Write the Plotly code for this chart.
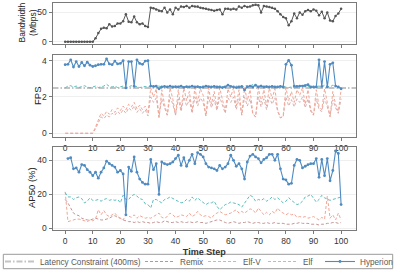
import plotly.graph_objects as go

# ---------------- data ----------------
time_step = list(range(101))

bandwidth_mbps = [
    0, 0, 0, 0, 0, 0, 0, 0, 0, 0,
    0, 6, 15, 22, 24, 23, 30, 26, 27, 31,
    31, 35, 47, 34, 33, 43, 33, 30, 31, 27,
    25, 58, 57, 55, 53, 52, 58, 50, 55, 47,
    58, 55, 60, 59, 61, 58, 61, 60, 60, 58,
    57, 56, 55, 54, 53, 54, 55, 47, 56, 56,
    55, 56, 55, 60, 58, 61, 59, 60, 62, 63,
    62, 50, 61, 60, 59, 58, 56, 52, 47, 42,
    40, 28, 35, 48, 40, 50, 46, 52, 54, 52,
    55, 53, 45, 51, 40, 50, 36, 35, 44, 48,
    56,
]

latency_constraint_fps = 2.5

hyperion_fps = [
    3.78, 3.8, 4.05, 3.65, 3.95, 3.68, 3.9, 3.72, 3.92, 3.75,
    3.68, 3.72, 3.78, 3.8, 3.8, 4.1, 3.82, 3.78, 3.98, 3.82,
    3.85, 4.0, 2.5, 3.95, 3.95, 2.6, 4.05, 3.85, 3.8, 3.98,
    4.0, 2.6, 2.58, 2.6, 2.45, 2.55, 2.58, 2.55, 2.6, 2.55,
    2.57, 2.55, 2.6, 2.53, 2.57, 2.55, 2.6, 2.55, 2.57, 2.53,
    2.55, 2.6, 2.57, 2.55, 2.58, 2.55, 2.55, 2.52, 2.55, 2.65,
    2.58, 2.55, 2.52, 2.55, 2.58, 2.38, 2.55, 2.6, 2.55, 2.65,
    2.55, 2.6, 2.55, 2.57, 2.55, 2.58, 2.55, 2.55, 2.58, 2.55,
    3.8, 4.02, 3.75, 2.6, 2.58, 2.6, 2.6, 2.62, 2.68, 2.55,
    2.55, 2.55, 4.05, 2.58, 3.95, 2.55, 3.8, 3.88, 2.6, 2.55,
    2.45,
]

remix_fps = [
    2.5, 2.6, 2.62, 2.55, 2.6, 2.52, 2.58, 2.62, 2.55, 2.5,
    2.55, 2.6, 2.52, 2.56, 2.6, 2.7, 2.58, 2.55, 2.6, 2.52,
    2.55, 2.6, 2.5, 2.55, 2.62, 2.55, 2.58, 2.52, 2.55, 2.58,
    2.55, 2.6, 2.55, 2.57, 2.6, 2.55, 2.58, 2.56, 2.6, 2.55,
    2.57, 2.55, 2.6, 2.55, 2.58, 2.56, 2.6, 2.55, 2.58, 2.56,
    2.55, 2.6, 2.57, 2.55, 2.6, 2.55, 2.58, 2.56, 2.6, 2.65,
    2.58, 2.55, 2.6, 2.57, 2.55, 2.6, 2.62, 2.58, 2.7, 2.62,
    2.6, 2.65, 2.58, 2.6, 2.56, 2.6, 2.58, 2.55, 2.6, 2.57,
    2.55, 2.52, 2.55, 2.5, 2.55, 2.58, 2.6, 2.55, 2.6, 2.52,
    2.55, 2.58, 2.6, 2.55, 2.65, 2.58, 2.55, 2.65, 2.58, 2.55,
    2.5,
]

elf_v_fps = [
    0, 0, 0, 0, 0, 0, 0, 0, 0, 0,
    0, 0.25, 0.6, 0.9, 0.8, 1.0, 0.9, 1.1, 1.0, 1.2,
    1.05, 1.3, 1.1, 1.4, 1.25, 1.5, 1.15, 1.35, 1.1, 1.3,
    0.95, 2.0, 1.7, 1.95, 0.9, 1.9, 1.4, 1.0, 2.0, 1.6,
    1.0, 1.9, 1.2, 2.0, 1.5, 1.85, 1.1, 2.0, 1.5, 1.95,
    1.7, 0.95, 2.0, 1.4, 1.85, 1.25, 2.0, 1.6, 1.1, 1.95,
    1.7, 2.0, 1.3, 1.9, 1.0, 2.0, 1.5, 1.9, 1.05, 0.9,
    2.0, 1.45, 1.9, 1.3, 2.0, 1.6, 1.95, 1.2, 0.85, 0.9,
    2.0, 1.5, 1.85, 1.45, 1.9, 1.7, 2.0, 1.4, 1.9, 1.2,
    1.0, 1.9, 1.3, 1.2, 1.95, 1.45, 0.95, 1.85, 1.4, 1.1,
    1.9,
]

elf_fps = [
    0, 0, 0, 0, 0, 0, 0, 0, 0, 0,
    0, 0.35, 0.75, 1.1, 0.95, 1.2, 1.05, 1.3, 1.15, 1.4,
    1.25, 1.5, 1.3, 1.6, 1.45, 1.7, 1.35, 1.55, 1.3, 1.5,
    1.1, 2.5, 2.0, 2.45, 0.85, 2.4, 1.6, 1.0, 2.5, 1.9,
    1.0, 2.4, 1.3, 2.5, 1.8, 2.3, 1.2, 2.5, 1.7, 2.45,
    2.1, 0.95, 2.5, 1.6, 2.3, 1.4, 2.5, 1.9, 1.2, 2.45,
    2.0, 2.5, 1.5, 2.4, 1.0, 2.5, 1.8, 2.4, 1.1, 0.9,
    2.5, 1.7, 2.4, 1.5, 2.5, 1.9, 2.45, 1.3, 0.85, 0.95,
    2.5, 1.8, 2.3, 1.7, 2.4, 2.1, 2.5, 1.6, 2.4, 1.3,
    1.0, 2.4, 1.5, 1.3, 2.45, 1.7, 0.9, 2.3, 1.6, 1.2,
    2.4,
]

hyperion_ap50 = [
    None, 41, 41.5, 35, 35.5, 33, 37.5, 37, 34.5, 33,
    31, 33, 29.5, 33, 35.5, 39.5, 38, 37, 36, 33,
    34, 32, 8, 36, 33.5, 42, 33, 29, 27, 26,
    26, 40.5, 34.5, 38, 20, 39, 38, 37.5, 38, 39,
    41, 43, 37, 41.5, 36.5, 40, 43.5, 38, 44.5, 43.5,
    42, 38, 36, 35.5, 35, 34, 37, 35, 36, 38,
    43, 40, 36.5, 38, 35, 29, 39, 42.5, 43.5, 42,
    41, 38.5, 40.5, 41.5, 43.5, 43.5, 40, 43.5, 35, 29,
    28.5, 26, 26.5, 37, 40.5, 40, 35.5, 36.5, 37.5, 38,
    38, 41, 30, 40.5, 31, 41, 28, 34, 45.5, 44,
    14,
]

remix_ap50 = [
    21, 18.5, 18.5, 17, 18, 18.5, 17.5, 15, 16, 18,
    16.5, 16.5, 17, 16, 17, 17.5, 16.5, 17, 16.5, 17,
    15, 19.5, 17, 17, 19, 20, 19, 17.5, 17, 14.5,
    14, 12, 17, 17, 16, 15, 17, 17.5, 18.5, 17.5,
    17, 16, 15, 15.5, 17, 16, 18.5, 16.5, 18, 16.5,
    15.5, 14, 15, 15, 16, 13, 11, 12.5, 14, 14.5,
    15.5, 15, 14.5, 14, 12.5, 15, 17, 19.5, 18.5, 16,
    17, 16.5, 17.5, 16, 17, 18.5, 17, 18, 16.5, 15,
    16, 18, 16.5, 15, 14, 14.5, 16, 18.5, 19, 20,
    17.5, 15.5, 17, 19.5, 18, 17, 16.5, 17, 17.5, 18,
    18.5,
]

elf_v_ap50 = [
    17, 15, 12, 9, 8, 7.5, 6, 5.5, 5, 5,
    5.5, 6, 5.5, 5, 5, 5.5, 6, 7, 7.5, 6.5,
    6, 5, 4.5, 4, 4, 3.5, 4, 3.5, 4, 3.5,
    3.5, 3, 3.5, 4, 3.5, 3.5, 4.5, 4, 3.5, 3.5,
    4, 3.5, 4, 3.5, 3.5, 4, 3.5, 3.5, 4, 3.5,
    3.5, 3, 3.5, 4, 4.5, 5, 5, 4, 3.5, 3,
    3.5, 4, 3.5, 3, 3.5, 3.5, 4, 3.5, 3, 3.5,
    3.5, 3, 3, 3.5, 3, 3, 3.5, 3, 3, 3,
    2.5, 2.5, 2.5, 3, 3, 3.5, 3, 3, 3, 2.5,
    2.5, 2.5, 2, 2.5, 2.5, 3, 3, 3.5, 3.5, 3,
    3.5,
]

elf_ap50 = [
    21.5, 4, 4.5, 5, 5.5, 5.5, 5, 4.5, 4, 5,
    4.5, 5.5, 11, 8, 10.5, 8, 7, 8, 9, 7,
    6, 5, 8, 7, 6.5, 8, 6, 7.5, 6.5, 6,
    6.5, 6, 7, 8, 9, 6.5, 6, 7, 9, 8,
    6.5, 7, 8, 7.5, 7, 9, 7, 8, 10, 8,
    7, 7.5, 7, 6, 8, 9, 10, 9, 8, 8.5,
    9, 10, 11, 9, 10, 9, 10, 11.5, 11, 9,
    12, 10, 8, 9.5, 8, 10, 9, 12, 10, 9,
    8, 9, 8, 8.5, 6.5, 7, 6.5, 7, 6, 6.5,
    7, 6, 5, 6.5, 5.5, 19, 6, 8, 5, 9,
    5,
]

x_ticks = [0, 10, 20, 30, 40, 50, 60, 70, 80, 90, 100]

# ---------------- style ----------------
FONT = "Liberation Sans, Arial, sans-serif"
C_HYP = "#4f8bc1"
C_REMIX = "#5cbdbd"
C_ELFV = "#d9b0b0"
C_ELF = "#f4a595"
C_LAT = "#c4c4c4"
C_BW = "#555555"
X_RANGE = [-4.6, 105.4]
W, H = 397, 273

def py(px):
    return 1 - px / H

def px_x(px):
    return px / W

fig = go.Figure()

# Panel 1: bandwidth
fig.add_trace(go.Scatter(
    x=time_step, y=bandwidth_mbps, mode="lines+markers",
    line=dict(color=C_BW, width=1), marker=dict(size=2.5, color=C_BW),
    showlegend=False, xaxis="x", yaxis="y"))

# Panel 2: FPS
fig.add_trace(go.Scatter(
    x=X_RANGE, y=[latency_constraint_fps, latency_constraint_fps], mode="lines",
    name="Latency Constraint (400ms)", legend="legend",
    line=dict(color=C_LAT, width=2, dash="6px,2px,1.5px,2px"),
    xaxis="x2", yaxis="y2"))
fig.add_trace(go.Scatter(
    x=time_step, y=elf_v_fps, mode="lines", name="Elf-V", legend="legend3", legendgroup="elfv",
    line=dict(color=C_ELFV, width=1, dash="3px,2px"), xaxis="x2", yaxis="y2"))
fig.add_trace(go.Scatter(
    x=time_step, y=elf_fps, mode="lines", name="Elf", legend="legend4", legendgroup="elf",
    line=dict(color=C_ELF, width=1, dash="3px,2px"), xaxis="x2", yaxis="y2"))
fig.add_trace(go.Scatter(
    x=time_step, y=remix_fps, mode="lines", name="Remix", legend="legend2", legendgroup="remix",
    line=dict(color=C_REMIX, width=1, dash="3px,2px"), xaxis="x2", yaxis="y2"))
fig.add_trace(go.Scatter(
    x=time_step, y=hyperion_fps, mode="lines+markers", name="Hyperion", legend="legend5",
    legendgroup="hyp", line=dict(color=C_HYP, width=1.1),
    marker=dict(size=2.8, color=C_HYP), xaxis="x2", yaxis="y2"))

# Panel 3: AP50
fig.add_trace(go.Scatter(
    x=time_step, y=elf_v_ap50, mode="lines", name="Elf-V", legendgroup="elfv", showlegend=False,
    line=dict(color="#c79696", width=1, dash="3px,2px"), xaxis="x3", yaxis="y3"))
fig.add_trace(go.Scatter(
    x=time_step, y=elf_ap50, mode="lines", name="Elf", legendgroup="elf", showlegend=False,
    line=dict(color=C_ELF, width=1, dash="3px,2px"), xaxis="x3", yaxis="y3"))
fig.add_trace(go.Scatter(
    x=time_step, y=remix_ap50, mode="lines", name="Remix", legendgroup="remix", showlegend=False,
    line=dict(color=C_REMIX, width=1, dash="3px,2px"), xaxis="x3", yaxis="y3"))
fig.add_trace(go.Scatter(
    x=time_step, y=hyperion_ap50, mode="lines+markers", name="Hyperion", legendgroup="hyp",
    showlegend=False, line=dict(color=C_HYP, width=1.1),
    marker=dict(size=2.8, color=C_HYP), xaxis="x3", yaxis="y3"))

xdom = [52.5 / W, 356 / W]
common_x = dict(range=X_RANGE, tickvals=x_ticks, showgrid=False, zeroline=False,
                showline=True, mirror=True, linecolor="#7a7a7a", linewidth=1,
                ticks="outside", ticklen=3, tickcolor="#7a7a7a",
                tickfont=dict(size=8.5, color="#333333", family=FONT), domain=xdom)
common_y = dict(showgrid=True, gridcolor="#efefef", gridwidth=0.6, zeroline=False,
                showline=True, mirror=True, linecolor="#7a7a7a", linewidth=1,
                ticks="outside", ticklen=3, tickcolor="#7a7a7a",
                tickfont=dict(size=8.5, color="#333333", family=FONT))

def leg(x_left):
    return dict(orientation="h", x=px_x(x_left), xanchor="left", y=py(261.5), yanchor="middle",
                borderwidth=0, bgcolor="rgba(0,0,0,0)",
                font=dict(size=8.2, color="#595959", family=FONT), itemwidth=30)

fig.update_layout(
    width=W, height=H,
    margin=dict(l=0, r=0, t=0, b=0, autoexpand=False),
    paper_bgcolor="white", plot_bgcolor="white",
    font=dict(family=FONT, color="#333333"),
    xaxis=dict(common_x, anchor="y", showticklabels=False),
    yaxis=dict(common_y, range=[-3, 66], tickvals=[0, 50], domain=[py(43.5), py(3)]),
    xaxis2=dict(common_x, anchor="y2"),
    yaxis2=dict(common_y, range=[-0.19, 4.33], tickvals=[0, 2, 4], domain=[py(136.7), py(54.7)]),
    xaxis3=dict(common_x, anchor="y3",
                title=dict(text="<b>Time Step</b>", font=dict(size=9, color="#333333"), standoff=3)),
    yaxis3=dict(common_y, range=[-0.9, 47.8], tickvals=[0, 20, 40], domain=[py(230), py(147)]),
    legend=leg(0),
    legend2=leg(140),
    legend3=leg(203),
    legend4=leg(263),
    legend5=leg(320),
    shapes=[dict(type="rect", xref="paper", yref="paper",
                 x0=px_x(3.3), x1=px_x(392.7), y0=py(268.7), y1=py(254.3),
                 line=dict(color="#9a9a9a", width=1), fillcolor="rgba(0,0,0,0)", layer="below")],
    annotations=[
        dict(text="Bandwidth<br>(Mbps)", x=26.5 / W, y=py(22), xref="paper", yref="paper",
             textangle=-90, showarrow=False, xanchor="center", yanchor="middle",
             font=dict(size=8.5, color="#222222")),
        dict(text="FPS", x=37 / W, y=py(96), xref="paper", yref="paper",
             textangle=-90, showarrow=False, xanchor="center", yanchor="middle",
             font=dict(size=9.5, color="#222222")),
        dict(text="AP50 (%)", x=31 / W, y=py(188), xref="paper", yref="paper",
             textangle=-90, showarrow=False, xanchor="center", yanchor="middle",
             font=dict(size=9.5, color="#222222")),
    ],
)

fig.write_html("out.html", config={"displayModeBar": False},
               post_script="document.body.style.margin='0px';")
